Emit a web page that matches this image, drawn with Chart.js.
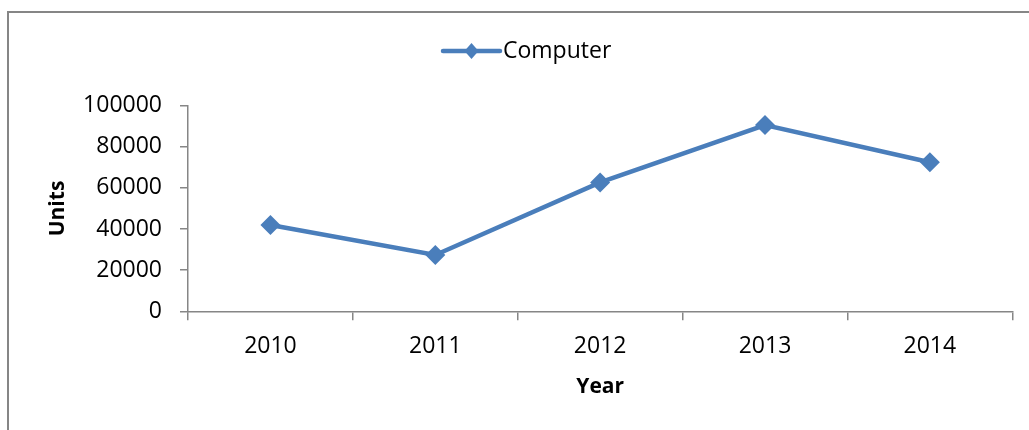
<!DOCTYPE html>
<html>
<head>
<meta charset="utf-8">
<title>Computer units by year</title>
<script src="https://cdn.jsdelivr.net/npm/chart.js@4/dist/chart.umd.min.js"></script>
<style>
  html, body { margin: 0; padding: 0; background: #ffffff; }
  #wrap { width: 1029px; height: 430px; position: relative; }
  canvas { display: block; }
</style>
</head>
<body>
<div id="wrap"><canvas id="chart" width="1029" height="430"></canvas></div>
<script>
// Units sold per year
const years = ['2010', '2011', '2012', '2013', '2014'];
const computerUnits = [42000, 27400, 62700, 90600, 72500];
const unitTicks = [0, 20000, 40000, 60000, 80000, 100000];

const LINE_BLUE = '#4a7ebb';
const AXIS_GREY = '#868686';
const FONT = '"Open Sans", "DejaVu Sans", sans-serif';

// Outer frame of the figure
const framePlugin = {
  id: 'frame',
  beforeDraw(chart) {
    const ctx = chart.ctx;
    ctx.save();
    ctx.fillStyle = '#ffffff';
    ctx.fillRect(0, 0, chart.width, chart.height);
    ctx.strokeStyle = AXIS_GREY;
    ctx.lineWidth = 2;
    ctx.beginPath();
    ctx.moveTo(8, chart.height + 5);
    ctx.lineTo(8, 12);
    ctx.lineTo(chart.width + 5, 12);
    ctx.stroke();
    ctx.restore();
  }
};

// Legend entry drawn as a line with a diamond marker
const lineLegendPlugin = {
  id: 'lineLegend',
  afterDraw(chart) {
    const ctx = chart.ctx;
    const ds = chart.data.datasets[0];
    const y = 51;
    const x0 = 443, x1 = 500, cx = (x0 + x1) / 2;
    ctx.save();
    ctx.strokeStyle = ds.borderColor;
    ctx.lineWidth = 4.5;
    ctx.lineCap = 'round';
    ctx.beginPath();
    ctx.moveTo(x0, y);
    ctx.lineTo(x1, y);
    ctx.stroke();
    ctx.fillStyle = ds.pointBackgroundColor;
    ctx.beginPath();
    ctx.moveTo(cx - 7, y);
    ctx.lineTo(cx, y - 8);
    ctx.lineTo(cx + 7, y);
    ctx.lineTo(cx, y + 8);
    ctx.closePath();
    ctx.fill();
    ctx.fillStyle = '#000000';
    ctx.font = '23px ' + FONT;
    ctx.textAlign = 'left';
    ctx.textBaseline = 'middle';
    ctx.fillText(ds.label, 503, y);
    ctx.restore();
  }
};

new Chart(document.getElementById('chart'), {
  type: 'line',
  data: {
    labels: years,
    datasets: [{
      label: 'Computer',
      data: computerUnits,
      borderColor: LINE_BLUE,
      backgroundColor: LINE_BLUE,
      borderWidth: 4.5,
      tension: 0,
      fill: false,
      pointStyle: 'rectRot',
      pointRadius: 10,
      pointBorderWidth: 0,
      pointBackgroundColor: LINE_BLUE,
      pointBorderColor: LINE_BLUE
    }]
  },
  options: {
    responsive: false,
    devicePixelRatio: 1,
    animation: false,
    layout: { padding: { top: 105.7, right: 16.7, bottom: 0, left: 0 } },
    plugins: {
      legend: { display: false },
      tooltip: { enabled: false }
    },
    scales: {
      x: {
        type: 'category',
        offset: true,
        afterFit(scale) { scale.height = 118.7; },
        grid: {
          offset: true,
          drawOnChartArea: false,
          drawTicks: true,
          tickLength: 9,
          color: AXIS_GREY,
          lineWidth: 1.5
        },
        border: { display: true, color: AXIS_GREY, width: 1.5 },
        ticks: {
          color: '#000000',
          padding: 12,
          font: { family: FONT, size: 23 },
          maxRotation: 0
        },
        title: {
          display: true,
          text: 'Year',
          color: '#000000',
          font: { family: FONT, size: 21, weight: 'bold' },
          padding: { top: 0, bottom: 30.4 }
        }
      },
      y: {
        min: 0,
        max: 100000,
        afterFit(scale) { scale.width = 188; },
        afterBuildTicks(scale) { scale.ticks = unitTicks.map(v => ({ value: v })); },
        grid: {
          drawOnChartArea: false,
          drawTicks: true,
          tickLength: 8,
          color: AXIS_GREY,
          lineWidth: 1.5
        },
        border: { display: true, color: AXIS_GREY, width: 1.5 },
        ticks: {
          color: '#000000',
          padding: 18,
          font: { family: FONT, size: 23 },
          callback: v => String(v)
        },
        title: {
          display: true,
          text: 'Units',
          color: '#000000',
          font: { family: FONT, size: 21, weight: 'bold' },
          padding: { top: 45.4, bottom: 0 }
        }
      }
    }
  },
  plugins: [framePlugin, lineLegendPlugin]
});
</script>
</body>
</html>
